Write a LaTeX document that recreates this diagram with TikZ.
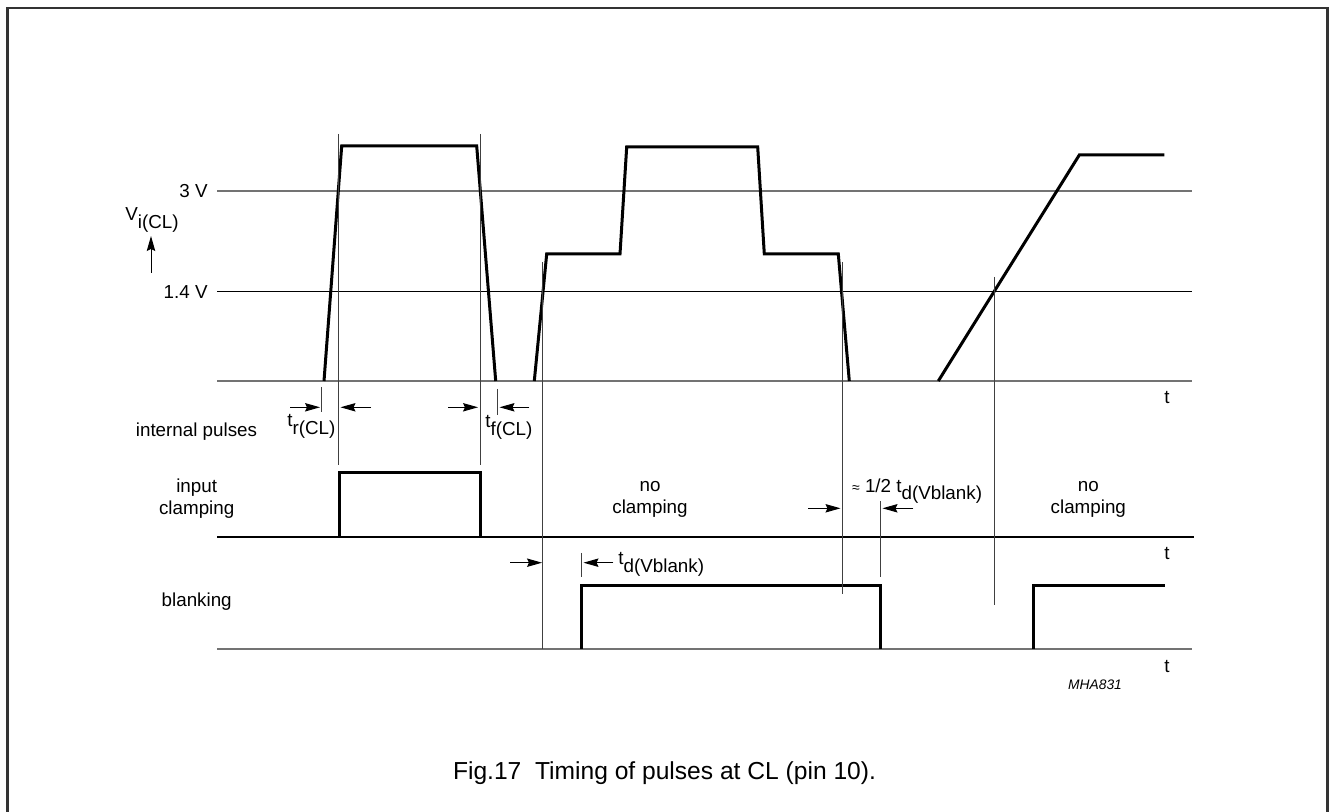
\documentclass[tikz,border=0pt]{standalone}
\usepackage{fontspec}
\setmainfont{Liberation Sans}
\usetikzlibrary{arrows.meta}
\newcommand\lowsub[1]{\raisebox{-0.4em}{#1}}
\begin{document}
\begin{tikzpicture}[x=0.5pt, y=-0.5pt, font=\fontsize{9.4}{11}\selectfont,
  >={Stealth[length=7.5pt,width=4.2pt,inset=1pt]},
  wave/.style={line width=1.5pt, line join=miter},
  mark line/.style={line width=0.5pt, black!75},
  level/.style={line width=0.8pt, black!55},
  dim/.style={->, line width=0.5pt},
  lbl/.style={align=center, inner sep=0pt}]
\useasboundingbox (0,0) rectangle (1329,812);
\draw[line width=1.1pt, black!80] (7.5,830) -- (7.5,8) -- (1327.5,8) -- (1327.5,830);
% level lines and time axes
\draw[level] (217,191)--(1192,191);
\draw[line width=0.5pt] (217,292)--(1192,292);
\draw[level] (217,381)--(1192,381);
\draw[line width=0.9pt] (217,537)--(1194,537);
\draw[level] (217,649)--(1192,649);
\foreach \y/\n in {397/ta, 553/tb, 666/tc}
  \node[lbl] (\n) at (1167,\y) {t};
\node[lbl, anchor=east] (three) at (208,191) {3 V};
\node[lbl, anchor=east] (onefour) at (208,292) {1.4 V};
\node[lbl, anchor=base] (vicl) at (152,221) {V\lowsub{i(CL)}};
\draw[dim] (151,273)--(151,236);
% V_i(CL) waveforms
\draw[wave] (324,381)--(341.7,146)--(476.7,146)--(495.7,381);
\draw[wave] (534.3,381)--(546.7,254)--(620,254)--(626.7,147)--(757.7,147)
  --(764.3,254)--(838.3,254)--(849.3,381);
\draw[wave] (938.3,381)--(1079.3,155)--(1164.3,155);
% clamping and blanking pulses
\draw[wave] (339,537)--(339,473)--(480,473)--(480,537);
\draw[wave] (581.7,649)--(581.7,585.5)--(880.7,585.5)--(880.7,649);
\draw[wave] (1033.3,649)--(1033.3,585.5)--(1165,585.5);
% timing marks
\draw[mark line] (338.3,134)--(338.3,465) (480,134)--(480,465)
  (321.7,387)--(321.7,412) (497.3,389)--(497.3,415)
  (542.7,262)--(542.7,649) (842,262)--(842,594) (994.3,277)--(994.3,605)
  (880,501)--(880,577) (581.7,553)--(581.7,577);
\draw[dim] (290,407.3)--(320,407.3);
\draw[dim] (371,407.3)--(340.5,407.3);
\draw[dim] (448.3,407.3)--(478,407.3);
\draw[dim] (529.3,407.3)--(499.5,407.3);
\draw[dim] (808.3,508.3)--(840.5,508.3);
\draw[dim] (913.3,508.3)--(882.5,508.3);
\draw[dim] (510,562.7)--(542,562.7);
\draw[dim] (613.3,562.7)--(583.5,562.7);
\node[lbl, anchor=base west] (trise) at (287,426.7) {t\lowsub{r(CL)}};
\node[lbl, anchor=base west] (tfall) at (485,428) {t\lowsub{f(CL)}};
\node[lbl, anchor=base west] (thalf) at (851.7,492.3) {{\fontsize{7}{8}\selectfont ≈} 1/2 t\lowsub{d(Vblank)}};
\node[lbl, anchor=base west] (tdel) at (618,565) {t\lowsub{d(Vblank)}};
% row names
\node[lbl] (intp) at (196.5,432) {internal pulses};
\node[lbl] (inclamp) at (196.7,499) {input\\clamping};
\node[lbl] (blank) at (196.7,602) {blanking};
\node[lbl] (noclampa) at (650,499) {no\\clamping};
\node[lbl] (noclampb) at (1088.3,499) {no\\clamping};
\node[lbl, font=\fontsize{6.9}{8}\selectfont\itshape] (code) at (1095,685) {MHA831};
\node[lbl, font=\fontsize{12.3}{14}\selectfont] (caption) at (664.5,773) {Fig.17\ \ Timing of pulses at CL (pin 10).};
\end{tikzpicture}
\end{document}
